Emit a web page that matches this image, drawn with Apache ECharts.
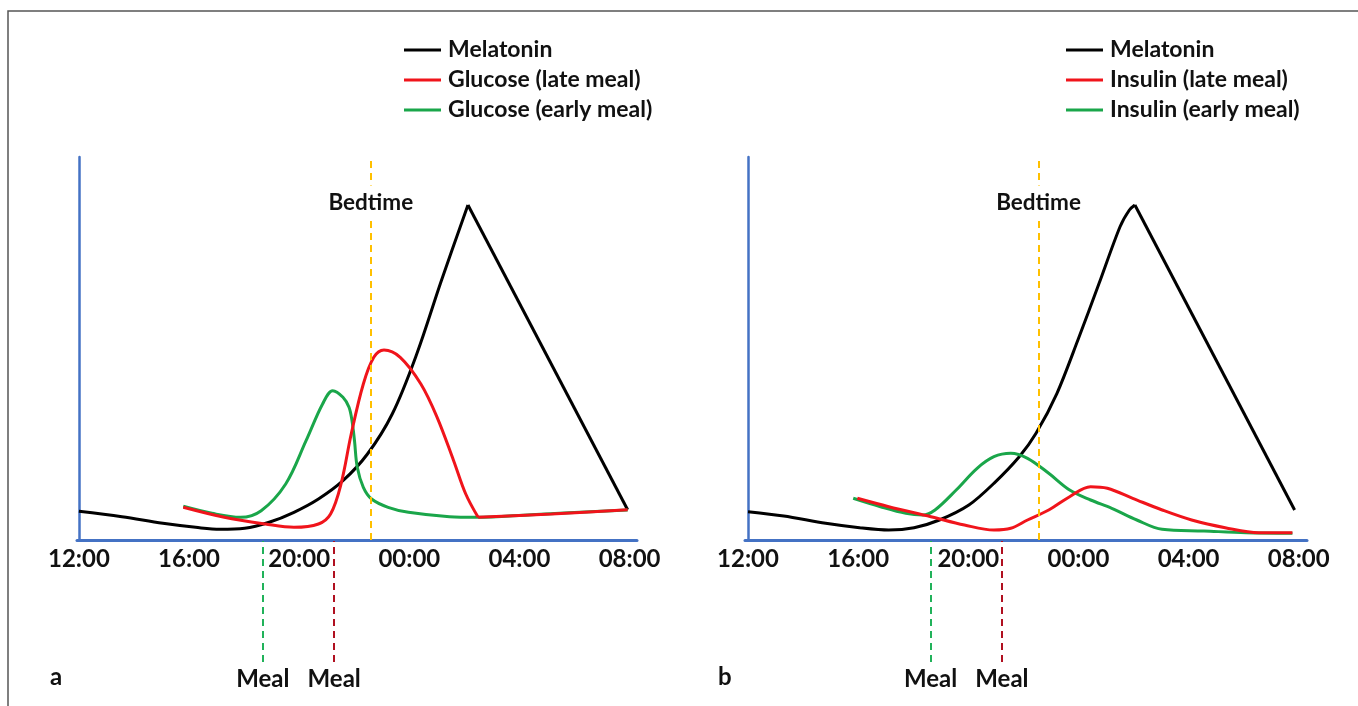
<!DOCTYPE html>
<html>
<head>
<meta charset="utf-8">
<script src="https://cdn.jsdelivr.net/npm/echarts@6.0.0/dist/echarts.min.js"></script>
<style>
  html, body { margin: 0; padding: 0; background: #fff; }
  #main { width: 1358px; height: 706px; }
</style>
</head>
<body>
<div id="main"></div>
<script>
// 时间轴：0 = 12:00，单位小时
const tickHours = [0, 4, 8, 12, 16, 20];
const tickLabels = ['12:00', '16:00', '20:00', '00:00', '04:00', '08:00'];

// 图 a：血糖
const melatoninRiseA = [[0, 28.7], [1.56, 23.3], [3.05, 16.7], [4.24, 12.7], [5.13, 10.7], [6.02, 11.7], [6.91, 17.7], [7.81, 27.7], [8.7, 41], [9.59, 59.3], [10.48, 86], [11.38, 126], [12.27, 186], [13.16, 259], [14.13, 335]];
const melatoninFallA = [[14.13, 335], [19.93, 30.3]];
const glucoseLateA = [[3.79, 32.7], [5.28, 22.7], [6.77, 16], [7.81, 12.7], [8.7, 16], [9.14, 26], [9.52, 56], [9.89, 106], [10.33, 156], [10.71, 182.7], [11.08, 190], [11.67, 182.7], [12.42, 156], [13.01, 122.7], [13.61, 79.3], [14.05, 46], [14.5, 22.7]];
const glucoseLateTailA = [[14.5, 22.7], [17.17, 26], [19.93, 30.3]];
const glucoseEarlyA = [[3.79, 33.7], [4.83, 26.7], [5.87, 22.7], [6.62, 29.3], [7.51, 56], [8.25, 99.3], [8.85, 136], [9.22, 149.3], [9.59, 142.7], [9.81, 132.7], [9.92, 119], [10.01, 99], [10.11, 72.7], [10.33, 52.7], [10.63, 41], [11.23, 32.7], [11.97, 27.7], [13.46, 23.3], [14.42, 22.7], [16.43, 25.3], [19.93, 30]];
const mealEarlyA = 6.68;
const mealLateA = 9.27;
const bedtimeA = 10.6;

// 图 b：胰岛素
const melatoninRiseB = [[0, 28.3], [1.3, 24], [2.82, 16.7], [4.05, 12.3], [5.11, 10], [6.03, 12.3], [6.95, 20], [8.02, 35], [8.93, 56.7], [9.85, 83.3], [10.46, 106.7], [11.22, 146.7], [11.98, 200], [12.75, 256.7], [13.51, 313.3], [13.85, 330], [14.05, 335]];
const melatoninFallB = [[14.05, 335], [19.85, 30]];
const insulinLateB = [[3.97, 41.7], [5.11, 33.3], [6.64, 23.3], [7.86, 15], [8.93, 10], [9.54, 11.7], [10.15, 20], [10.92, 30], [11.68, 43.3], [12.44, 53.3], [13.05, 51.7], [13.97, 41.7], [15.04, 30], [16.11, 20], [17.33, 12.3], [18.55, 7.3], [19.77, 7.3]];
const insulinEarlyB = [[3.82, 41.7], [4.81, 33.3], [5.73, 26.7], [6.34, 25], [6.79, 30], [7.56, 50], [8.32, 71.7], [8.93, 83.3], [9.54, 86.7], [10.15, 81.7], [10.92, 66.7], [11.68, 50], [12.44, 40], [13.21, 31.7], [14.12, 20], [15.04, 10.7], [16.56, 9], [18.09, 7.3], [19.77, 6.7]];
const mealEarlyB = 6.63;
const mealLateB = 9.22;
const bedtimeB = 10.55;

const bedtimeLabelY = 337; // Bedtime 文字的高度
const yMax = 383;

const FONT = 'Lato';
const BLUE = '#4472c4';
const RED = '#f0141b';
const GREEN = '#1aa64a';
const ORANGE = '#ffc000';
const DARKRED = '#b01020';
const MEAL_GREEN = '#21b25a';

function timeLabel(v) {
  let i = tickHours.indexOf(Math.round(v));
  return i >= 0 ? tickLabels[i] : '';
}

// 主图的 x 轴
function mainXAxis(gridIndex, min, max) {
  return {
    type: 'value',
    gridIndex: gridIndex,
    min: min,
    max: max,
    axisLine: { show: true, onZero: false, lineStyle: { color: BLUE, width: 3 } },
    axisTick: { show: false },
    splitLine: { show: false },
    axisLabel: {
      show: true,
      customValues: tickHours,
      formatter: timeLabel,
      margin: 7,
      color: '#111',
      fontFamily: FONT,
      fontWeight: 'bold',
      fontSize: 24,
      showMinLabel: true,
      showMaxLabel: true
    }
  };
}

function mainYAxis(gridIndex) {
  return {
    type: 'value',
    gridIndex: gridIndex,
    min: 0,
    max: yMax,
    axisLine: { show: true, lineStyle: { color: BLUE, width: 2.5 } },
    axisTick: { show: false },
    axisLabel: { show: false },
    splitLine: { show: false }
  };
}

// 下方放 Meal 线的隐藏坐标系
function hiddenAxis(gridIndex, min, max) {
  return { type: 'value', gridIndex: gridIndex, min: min, max: max, show: false };
}

function curve(name, data, color, xi, smooth) {
  return {
    name: name,
    type: 'line',
    xAxisIndex: xi,
    yAxisIndex: xi,
    data: data,
    smooth: smooth,
    showSymbol: false,
    symbol: 'none',
    lineStyle: { color: color, width: 3 },
    itemStyle: { color: color },
    z: 3
  };
}

function bedtimeMarks(bed) {
  return {
    markLine: {
      silent: true,
      symbol: ['none', 'none'],
      label: { show: false },
      lineStyle: { color: ORANGE, type: [7, 5], width: 2 },
      data: [{ xAxis: bed }]
    },
    markPoint: {
      silent: true,
      symbol: 'rect',
      symbolSize: 1,
      itemStyle: { color: 'rgba(0,0,0,0)' },
      label: {
        show: true,
        position: 'inside',
        formatter: 'Bedtime',
        color: '#111',
        fontFamily: FONT,
        fontWeight: 'bold',
        fontSize: 22.5,
        backgroundColor: '#fff',
        padding: [6, 3]
      },
      data: [{ coord: [bed, bedtimeLabelY] }]
    }
  };
}

function mealSeries(xi, early, late) {
  return {
    name: 'meal' + xi,
    type: 'line',
    xAxisIndex: xi,
    yAxisIndex: xi,
    data: [],
    markLine: {
      silent: true,
      symbol: ['none', 'none'],
      label: {
        show: true,
        position: 'start',
        formatter: 'Meal',
        distance: 5,
        color: '#111',
        fontFamily: FONT,
        fontWeight: 'bold',
        fontSize: 24
      },
      data: [
        { xAxis: early, lineStyle: { color: MEAL_GREEN, type: [7, 5], width: 2 } },
        { xAxis: late, lineStyle: { color: DARKRED, type: [7, 5], width: 2 } }
      ]
    }
  };
}

const chart = echarts.init(document.getElementById('main'), null, { renderer: 'canvas' });

const legendText = { color: '#111', fontFamily: FONT, fontWeight: 'bold', fontSize: 23, lineHeight: 24, padding: [0, 0, 0, 2] };

let seriesA1 = curve('Melatonin', melatoninRiseA, '#000', 0, 0.35);
Object.assign(seriesA1, bedtimeMarks(bedtimeA));
let seriesB1 = curve('Melatonin', melatoninRiseB, '#000', 1, 0.3);
Object.assign(seriesB1, bedtimeMarks(bedtimeB));

const option = {
  animation: false,
  backgroundColor: '#fff',
  title: [
    { text: 'a', left: 50, top: 665, padding: 0, textStyle: { fontFamily: FONT, fontWeight: 'bold', fontSize: 24, color: '#111' } },
    { text: 'b', left: 718, top: 665, padding: 0, textStyle: { fontFamily: FONT, fontWeight: 'bold', fontSize: 24, color: '#111' } }
  ],
  legend: [
    {
      orient: 'vertical', left: 404, top: 38, padding: 0,
      icon: 'rect', itemWidth: 37, itemHeight: 3, itemGap: 6,
      selectedMode: false,
      textStyle: legendText,
      data: ['Melatonin', 'Glucose (late meal)', 'Glucose (early meal)']
    },
    {
      orient: 'vertical', left: 1066, top: 38, padding: 0,
      icon: 'rect', itemWidth: 37, itemHeight: 3, itemGap: 6,
      selectedMode: false,
      textStyle: legendText,
      data: ['Melatonin', 'Insulin (late meal)', 'Insulin (early meal)']
    }
  ],
  grid: [
    { left: 77, top: 157, width: 560, height: 383 },
    { left: 745, top: 157, width: 562, height: 383 },
    { left: 77, top: 541, width: 560, height: 121 },
    { left: 745, top: 541, width: 562, height: 121 }
  ],
  xAxis: [
    mainXAxis(0, -0.07, 20.27),
    mainXAxis(1, -0.11, 20.3),
    hiddenAxis(2, -0.07, 20.27),
    hiddenAxis(3, -0.11, 20.3)
  ],
  yAxis: [
    mainYAxis(0),
    mainYAxis(1),
    hiddenAxis(2, 0, 1),
    hiddenAxis(3, 0, 1)
  ],
  graphic: [{
    type: 'rect',
    silent: true,
    shape: { x: 8, y: 11, width: 1400, height: 800 },
    style: { fill: 'none', stroke: '#555', lineWidth: 1.5 }
  }],
  series: [
    seriesA1,
    curve('Melatonin', melatoninFallA, '#000', 0, false),
    curve('Glucose (early meal)', glucoseEarlyA, GREEN, 0, 0.35),
    curve('Glucose (late meal)', glucoseLateA, RED, 0, 0.35),
    curve('Glucose (late meal)', glucoseLateTailA, RED, 0, 0.3),
    seriesB1,
    curve('Melatonin', melatoninFallB, '#000', 1, false),
    curve('Insulin (early meal)', insulinEarlyB, GREEN, 1, 0.35),
    curve('Insulin (late meal)', insulinLateB, RED, 1, 0.35),
    mealSeries(2, mealEarlyA, mealLateA),
    mealSeries(3, mealEarlyB, mealLateB)
  ]
};

chart.setOption(option);
</script>
</body>
</html>
